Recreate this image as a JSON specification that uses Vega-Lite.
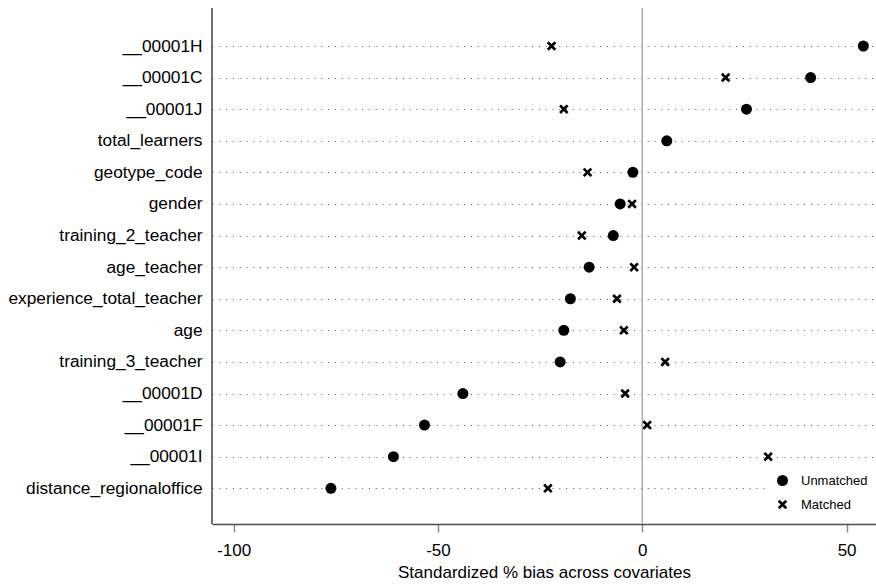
{
  "$schema": "https://vega.github.io/schema/vega-lite/v6.json",
  "width": 664,
  "height": 516,
  "autosize": {"type": "none"},
  "padding": {"left": 212, "top": 8, "right": 0, "bottom": 60},
  "background": "white",
  "config": {"view": {"stroke": null}, "font": "Liberation Sans"},
  "data": {"values": [
    {"var": "__00001H", "type": "Unmatched", "bias": 54.1},
    {"var": "__00001H", "type": "Matched", "bias": -22.2},
    {"var": "__00001C", "type": "Unmatched", "bias": 41.2},
    {"var": "__00001C", "type": "Matched", "bias": 20.4},
    {"var": "__00001J", "type": "Unmatched", "bias": 25.5},
    {"var": "__00001J", "type": "Matched", "bias": -19.2},
    {"var": "total_learners", "type": "Unmatched", "bias": 6.0},
    {"var": "geotype_code", "type": "Unmatched", "bias": -2.3},
    {"var": "geotype_code", "type": "Matched", "bias": -13.4},
    {"var": "gender", "type": "Unmatched", "bias": -5.4},
    {"var": "gender", "type": "Matched", "bias": -2.5},
    {"var": "training_2_teacher", "type": "Unmatched", "bias": -7.1},
    {"var": "training_2_teacher", "type": "Matched", "bias": -14.8},
    {"var": "age_teacher", "type": "Unmatched", "bias": -13.0},
    {"var": "age_teacher", "type": "Matched", "bias": -2.0},
    {"var": "experience_total_teacher", "type": "Unmatched", "bias": -17.6},
    {"var": "experience_total_teacher", "type": "Matched", "bias": -6.2},
    {"var": "age", "type": "Unmatched", "bias": -19.2},
    {"var": "age", "type": "Matched", "bias": -4.5},
    {"var": "training_3_teacher", "type": "Unmatched", "bias": -20.1},
    {"var": "training_3_teacher", "type": "Matched", "bias": 5.6},
    {"var": "__00001D", "type": "Unmatched", "bias": -43.9},
    {"var": "__00001D", "type": "Matched", "bias": -4.2},
    {"var": "__00001F", "type": "Unmatched", "bias": -53.3},
    {"var": "__00001F", "type": "Matched", "bias": 1.2},
    {"var": "__00001I", "type": "Unmatched", "bias": -60.9},
    {"var": "__00001I", "type": "Matched", "bias": 30.8},
    {"var": "distance_regionaloffice", "type": "Unmatched", "bias": -76.2},
    {"var": "distance_regionaloffice", "type": "Matched", "bias": -23.1}
  ]},
  "layer": [
    {
      "data": {"values": [{}]},
      "mark": {"type": "rule", "color": "#b0b0b0", "strokeWidth": 1.6},
      "encoding": {
        "x": {"datum": 0, "type": "quantitative"}
      }
    },
    {
      "data": {"values": [{}]},
      "mark": {"type": "rule", "color": "#4d4d4d", "strokeWidth": 1.6},
      "encoding": {
        "x": {"datum": -105.3, "type": "quantitative"}
      }
    },
    {
      "mark": {"type": "point", "filled": true, "opacity": 1, "strokeWidth": 0},
      "encoding": {
        "x": {
          "field": "bias", "type": "quantitative",
          "scale": {"domain": [-105.3, 57.2], "nice": false, "zero": false},
          "axis": {
            "values": [-100, -50, 0, 50],
            "labelExpr": "'' + datum.value",
            "grid": false,
            "title": "Standardized % bias across covariates",
            "titleFontSize": 17, "titleFontWeight": "normal", "titleColor": "black",
            "titlePadding": 6,
            "labelFontSize": 17, "labelColor": "black", "labelPadding": 10,
            "tickSize": 8, "tickColor": "#8c8c8c", "tickWidth": 1.5,
            "domainColor": "#4d4d4d", "domainWidth": 1.6
          }
        },
        "y": {
          "field": "var", "type": "nominal",
          "sort": ["__00001H", "__00001C", "__00001J", "total_learners", "geotype_code", "gender", "training_2_teacher", "age_teacher", "experience_total_teacher", "age", "training_3_teacher", "__00001D", "__00001F", "__00001I", "distance_regionaloffice"],
          "scale": {"type": "point", "padding": 0, "range": [38, 480.3]},
          "axis": {
            "title": null, "ticks": false, "labelLimit": 400, "domain": false,
            "labelFontSize": 17.3, "labelColor": "black", "labelPadding": 10,
            "grid": true, "gridDash": [1, 5.8], "gridColor": "#555555", "gridWidth": 1
          }
        },
        "shape": {
          "field": "type", "type": "nominal",
          "scale": {"domain": ["Unmatched", "Matched"], "range": ["circle", "M-1,-0.6L-0.6,-1L0,-0.4L0.6,-1L1,-0.6L0.4,0L1,0.6L0.6,1L0,0.4L-0.6,1L-1,0.6L-0.4,0Z"]},
          "legend": {"title": null, "orient": "none", "legendX": 556, "legendY": 458, "labelFontSize": 13, "labelColor": "black", "fillColor": "white", "padding": 8, "rowPadding": 10, "labelOffset": 12}
        },
        "size": {
          "field": "type", "type": "nominal",
          "scale": {"domain": ["Unmatched", "Matched"], "range": [121, 90]},
          "legend": {"title": null, "orient": "none", "legendX": 556, "legendY": 458, "labelFontSize": 13, "labelColor": "black", "fillColor": "white", "padding": 8, "rowPadding": 10, "labelOffset": 12}
        },
        "color": {
          "field": "type", "type": "nominal",
          "scale": {"domain": ["Unmatched", "Matched"], "range": ["black", "black"]},
          "legend": {"title": null, "orient": "none", "legendX": 556, "legendY": 458, "labelFontSize": 13, "labelColor": "black", "fillColor": "white", "padding": 8, "rowPadding": 10, "labelOffset": 12}
        }
      }
    }
  ]
}
